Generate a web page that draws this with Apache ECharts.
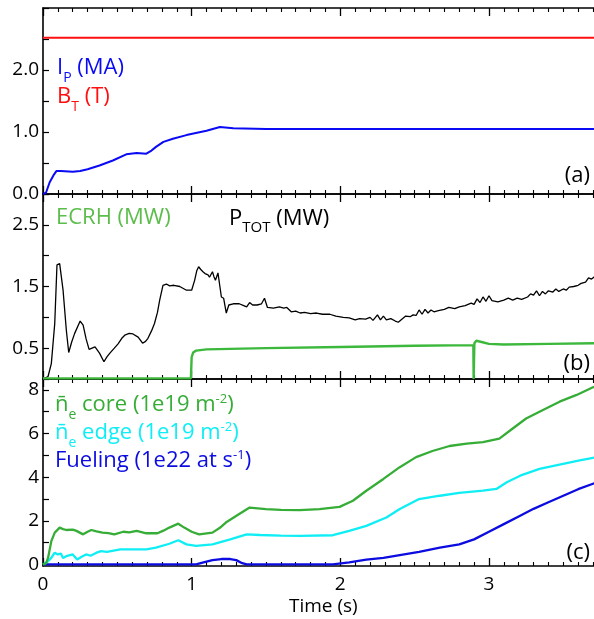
<!DOCTYPE html>
<html>
<head>
<meta charset="utf-8">
<script src="https://cdn.jsdelivr.net/npm/echarts@6/dist/echarts.min.js"></script>
<style>
  html, body { margin: 0; padding: 0; background: #ffffff; }
  #chart { width: 594px; height: 619px; }
</style>
</head>
<body>
<div id="chart"></div>
<script>
// ---- (a) plasma current and toroidal field ----
const ipCurrent = [
  [0, 0], [0.02, 0.02], [0.045, 0.19], [0.07, 0.3], [0.09, 0.37], [0.12, 0.37],
  [0.2, 0.36], [0.25, 0.37], [0.3, 0.4], [0.38, 0.46], [0.47, 0.54], [0.56, 0.64],
  [0.63, 0.66], [0.695, 0.65], [0.73, 0.7], [0.76, 0.76], [0.81, 0.84], [0.874, 0.89],
  [0.965, 0.95], [1.1, 1.02], [1.19, 1.08], [1.28, 1.06], [1.5, 1.05], [2.5, 1.05], [3.72, 1.05]
];
const btField = [[0, 2.52], [1, 2.52], [2, 2.52], [3, 2.52], [3.72, 2.52]];

// ---- (b) heating power ----
const ecrhPower = [
  [0, 0.01], [0.995, 0.01], [1.0, 0.35], [1.01, 0.43], [1.03, 0.46], [1.1, 0.48],
  [1.5, 0.5], [2.0, 0.52], [2.5, 0.54], [2.895, 0.55], [2.897, 0], [2.9, 0],
  [2.902, 0.58], [2.915, 0.62], [2.95, 0.6], [3.0, 0.57], [3.1, 0.56], [3.4, 0.57], [3.72, 0.58]
];
const totalPower = [
  [0, 0], [0.034, 0.04], [0.056, 0.25], [0.079, 0.9], [0.094, 1.85], [0.112, 1.87],
  [0.135, 1.44], [0.157, 0.79], [0.173, 0.43], [0.193, 0.6], [0.213, 0.74], [0.25, 0.94],
  [0.27, 0.875], [0.29, 0.65], [0.31, 0.48], [0.33, 0.5], [0.35, 0.52], [0.38, 0.42],
  [0.41, 0.28], [0.43, 0.36], [0.45, 0.42], [0.48, 0.5], [0.505, 0.57], [0.53, 0.66],
  [0.55, 0.71], [0.58, 0.74], [0.605, 0.73], [0.64, 0.68], [0.67, 0.58], [0.69, 0.61],
  [0.706, 0.66], [0.73, 0.78], [0.75, 0.9], [0.77, 1.08], [0.785, 1.28], [0.807, 1.52],
  [0.83, 1.54], [0.852, 1.51], [0.88, 1.52], [0.92, 1.5], [0.965, 1.44], [1.0, 1.44],
  [1.02, 1.6], [1.035, 1.76], [1.047, 1.82], [1.06, 1.78], [1.076, 1.74], [1.09, 1.71],
  [1.11, 1.69], [1.12, 1.65], [1.13, 1.63], [1.14, 1.74], [1.15, 1.66], [1.16, 1.6],
  [1.177, 1.72], [1.19, 1.5], [1.2, 1.33], [1.215, 1.31], [1.233, 1.07], [1.25, 1.2],
  [1.28, 1.22], [1.32, 1.22], [1.35, 1.19], [1.37, 1.17], [1.39, 1.24], [1.41, 1.2],
  [1.44, 1.2], [1.47, 1.22], [1.49, 1.31], [1.51, 1.16], [1.55, 1.15], [1.59, 1.17],
  [1.62, 1.15], [1.64, 1.16], [1.67, 1.09], [1.7, 1.1], [1.73, 1.07], [1.76, 1.08],
  [1.8, 1.06], [1.84, 1.07], [1.88, 1.05], [1.93, 1.05], [1.97, 1.02], [2.02, 1.0],
  [2.06, 0.99], [2.1, 0.96], [2.13, 0.98], [2.17, 0.97], [2.2, 1.0], [2.22, 0.95],
  [2.25, 1.04], [2.27, 0.96], [2.29, 1.02], [2.31, 0.96], [2.34, 0.98], [2.37, 0.94],
  [2.39, 0.92], [2.42, 0.98], [2.44, 1.02], [2.47, 1.01], [2.49, 1.04], [2.51, 1.03],
  [2.53, 1.12], [2.55, 1.05], [2.57, 1.13], [2.59, 1.07], [2.61, 1.12], [2.63, 1.09],
  [2.66, 1.11], [2.7, 1.13], [2.73, 1.16], [2.77, 1.14], [2.8, 1.17], [2.84, 1.19],
  [2.88, 1.23], [2.9, 1.21], [2.92, 1.3], [2.94, 1.24], [2.96, 1.33], [2.98, 1.26],
  [3.0, 1.35], [3.02, 1.27], [3.06, 1.25], [3.1, 1.28], [3.13, 1.31], [3.16, 1.28],
  [3.19, 1.31], [3.22, 1.29], [3.26, 1.33], [3.28, 1.38], [3.3, 1.36], [3.32, 1.43],
  [3.34, 1.35], [3.36, 1.42], [3.38, 1.38], [3.4, 1.43], [3.43, 1.41], [3.45, 1.46],
  [3.47, 1.42], [3.5, 1.46], [3.52, 1.44], [3.54, 1.49], [3.57, 1.5], [3.6, 1.52],
  [3.62, 1.55], [3.65, 1.57], [3.67, 1.64], [3.69, 1.62], [3.71, 1.66]
];

// ---- (c) line-averaged densities and fueling rate ----
const densityCore = [
  [0, 0], [0.02, 0.05], [0.034, 0.3], [0.056, 1.07], [0.079, 1.46], [0.112, 1.69],
  [0.135, 1.62], [0.157, 1.58], [0.2, 1.6], [0.225, 1.54], [0.27, 1.38], [0.3, 1.5],
  [0.325, 1.58], [0.36, 1.52], [0.4, 1.46], [0.44, 1.44], [0.48, 1.38], [0.54, 1.5],
  [0.58, 1.47], [0.63, 1.54], [0.695, 1.43], [0.77, 1.43], [0.81, 1.55], [0.85, 1.69],
  [0.91, 1.87], [0.95, 1.69], [1.0, 1.5], [1.05, 1.38], [1.14, 1.46], [1.19, 1.68],
  [1.23, 1.92], [1.32, 2.31], [1.39, 2.61], [1.5, 2.54], [1.6, 2.5], [1.727, 2.49],
  [1.86, 2.54], [1.995, 2.64], [2.085, 2.92], [2.175, 3.38], [2.29, 3.92], [2.4, 4.46],
  [2.51, 4.92], [2.62, 5.2], [2.735, 5.43], [2.85, 5.54], [2.96, 5.61], [3.07, 5.77],
  [3.16, 6.23], [3.25, 6.69], [3.36, 7.07], [3.475, 7.46], [3.59, 7.77], [3.7, 8.12], [3.72, 8.17]
];
const densityEdge = [
  [0, 0], [0.034, 0.15], [0.056, 0.3], [0.079, 0.54], [0.1, 0.46], [0.12, 0.5],
  [0.135, 0.3], [0.157, 0.38], [0.2, 0.46], [0.23, 0.23], [0.26, 0.35], [0.29, 0.46],
  [0.32, 0.4], [0.36, 0.54], [0.39, 0.61], [0.43, 0.58], [0.52, 0.69], [0.605, 0.69],
  [0.695, 0.69], [0.76, 0.77], [0.85, 0.95], [0.91, 1.11], [0.965, 0.92], [1.03, 0.85],
  [1.14, 0.92], [1.26, 1.15], [1.37, 1.38], [1.46, 1.35], [1.6, 1.32], [1.73, 1.31],
  [1.95, 1.34], [2.06, 1.54], [2.175, 1.77], [2.31, 2.15], [2.4, 2.54], [2.53, 3.0],
  [2.67, 3.15], [2.8, 3.28], [2.96, 3.38], [3.05, 3.46], [3.12, 3.77], [3.21, 4.07],
  [3.34, 4.38], [3.475, 4.58], [3.61, 4.77], [3.7, 4.89], [3.72, 4.91]
];
const fuelingRate = [
  [0, 0], [1.03, 0], [1.08, 0.1], [1.14, 0.2], [1.2, 0.25], [1.26, 0.25], [1.3, 0.2],
  [1.34, 0.06], [1.37, 0], [1.95, 0], [2.06, 0.1], [2.175, 0.22], [2.29, 0.3],
  [2.4, 0.43], [2.53, 0.58], [2.67, 0.77], [2.8, 0.92], [2.9, 1.15], [3.0, 1.5],
  [3.1, 1.85], [3.2, 2.2], [3.3, 2.55], [3.4, 2.85], [3.5, 3.15], [3.6, 3.45],
  [3.7, 3.7], [3.72, 3.75]
];

// Tick values and labels
const timeTicks = [0, 1, 2, 3];
const panelALabels = [0, 1, 2];
const panelBLabels = [0.5, 1.5, 2.5];
const panelCLabels = [0, 2, 4, 6, 8];
const panelCTicks = [0, 1, 2, 3, 4, 5, 6, 7, 8];

const FONT = '"Open Sans", "DejaVu Sans", sans-serif';
const BLUE = '#0a0af5';
const RED = '#ff1010';
const GREEN_B = '#3cb83c';
const GREEN_C = '#36ad36';
const CYAN = '#10eef5';
const FUEL = '#0c0ce0';

const chart = echarts.init(document.getElementById('chart'), null, { renderer: 'canvas' });

// layout of the three stacked panels
const LEFT = 43;
const PLOT_W = 594.6; // 0..4 s, the frame runs past the right edge
const panels = [
  { top: 8, height: 186 },
  { top: 194, height: 185 },
  { top: 379, height: 187 }
];

function timeAxis(gridIndex, position, withLabels) {
  return {
    type: 'value', gridIndex: gridIndex, position: position,
    min: 0, max: 4, interval: 1,
    axisLine: { show: true, onZero: false, lineStyle: { color: '#000', width: 1.6 } },
    axisTick: { show: true, inside: true, length: 8, lineStyle: { color: '#000', width: 1.3 } },
    minorTick: { show: true, splitNumber: 10, length: 4, lineStyle: { color: '#000', width: 1.1 } },
    splitLine: { show: false },
    minorSplitLine: { show: false },
    axisLabel: {
      show: withLabels, margin: 9, color: '#000', fontFamily: FONT, fontSize: 19,
      formatter: v => (timeTicks.indexOf(v) >= 0 ? String(v) : '')
    }
  };
}

const xAxes = [
  timeAxis(0, 'bottom', false), timeAxis(0, 'top', false),
  timeAxis(1, 'bottom', false), timeAxis(1, 'top', false),
  Object.assign(timeAxis(2, 'bottom', true), {
    name: 'Time (s)', nameLocation: 'middle', nameGap: 31,
    nameTextStyle: { color: '#000', fontFamily: FONT, fontSize: 19, padding: [0, 34, 0, 0] }
  }),
  timeAxis(2, 'top', false)
];

function valueAxisBase(gridIndex) {
  return {
    type: 'value', gridIndex: gridIndex, position: 'left',
    axisLine: { show: true, onZero: false, lineStyle: { color: '#000', width: 1.6 } },
    axisTick: { show: true, inside: true, length: 6, lineStyle: { color: '#000', width: 1.2 } },
    splitLine: { show: false },
    axisLabel: { show: true, margin: 4, color: '#000', fontFamily: FONT, fontSize: 19 }
  };
}

const yA = valueAxisBase(0);
yA.min = 0; yA.max = 3; yA.interval = 0.5;
yA.axisLabel.formatter = v => (panelALabels.indexOf(v) >= 0 ? v.toFixed(1) : '');

const yB = valueAxisBase(1);
yB.min = 0; yB.max = 3; yB.interval = 0.5;
yB.axisLabel.formatter = v => (panelBLabels.indexOf(v) >= 0 ? v.toFixed(1) : '');

const yC = valueAxisBase(2);
yC.min = -0.07; yC.max = 8.5;
yC.axisLabel.customValues = panelCLabels;
yC.axisLabel.formatter = v => String(v);
yC.axisTick.customValues = panelCTicks;

function line(name, data, xi, yi, color, width) {
  return {
    name: name, type: 'line', xAxisIndex: xi, yAxisIndex: yi, data: data,
    showSymbol: false, symbol: 'none', clip: true, animation: false,
    lineStyle: { color: color, width: width }, itemStyle: { color: color },
    emphasis: { disabled: true }
  };
}

// rich text styles shared by the in-plot annotations
function richSet(color) {
  return {
    m: { fontFamily: FONT, fontSize: 22, lineHeight: 40, fill: color, verticalAlign: 'middle' },
    sub: { fontFamily: FONT, fontSize: 14, fill: color, verticalAlign: 'middle', padding: [20, 0, 0, 0] },
    sub2: { fontFamily: FONT, fontSize: 15, fill: color, verticalAlign: 'middle', padding: [18, 0, 0, 0] },
    sup: { fontFamily: FONT, fontSize: 13, fill: color, verticalAlign: 'middle', padding: [0, 0, 12, 0] }
  };
}

function label(x, y, text, color, align) {
  return {
    type: 'text', x: x, y: y, silent: true,
    style: {
      text: text, rich: richSet(color), fill: color,
      fontFamily: FONT, fontSize: 22,
      align: align || 'left', verticalAlign: 'middle'
    }
  };
}

const option = {
  backgroundColor: '#ffffff',
  animation: false,
  grid: panels.map(p => ({
    left: LEFT, top: p.top, width: PLOT_W, height: p.height,
    containLabel: false, outerBoundsMode: 'none', show: false
  })),
  xAxis: xAxes,
  yAxis: [yA, yB, yC],
  series: [
    line('B_T', btField, 0, 0, RED, 2),
    line('I_P', ipCurrent, 0, 0, BLUE, 2),
    line('P_TOT', totalPower, 2, 1, '#000000', 1.3),
    line('ECRH', ecrhPower, 2, 1, GREEN_B, 2.4),
    line('Fueling', fuelingRate, 4, 2, FUEL, 2.3),
    line('n_e edge', densityEdge, 4, 2, CYAN, 2.3),
    line('n_e core', densityCore, 4, 2, GREEN_C, 2.3)
  ],
  graphic: [
    label(57, 68, '{m|I}{sub|P}{m| (MA)}', BLUE),
    label(57, 97, '{m|B}{sub|T}{m| (T)}', RED),
    label(590, 176, '{m|(a)}', '#000', 'right'),
    label(56, 218, '{m|ECRH (MW)}', '#5cbd4c'),
    label(229, 219, '{m|P}{sub2|TOT}{m| (MW)}', '#000'),
    label(590, 364, '{m|(b)}', '#000', 'right'),
    label(55, 405, '{m|n\u0304}{sub|e}{m| core (1e19 m}{sup|-2}{m|)}', GREEN_C),
    label(55, 433, '{m|n\u0304}{sub|e}{m| edge (1e19 m}{sup|-2}{m|)}', CYAN),
    label(55, 461, '{m|Fueling (1e22 at s}{sup|-1}{m|)}', FUEL),
    label(590, 553, '{m|(c)}', '#000', 'right')
  ]
};

chart.setOption(option);
</script>
</body>
</html>
